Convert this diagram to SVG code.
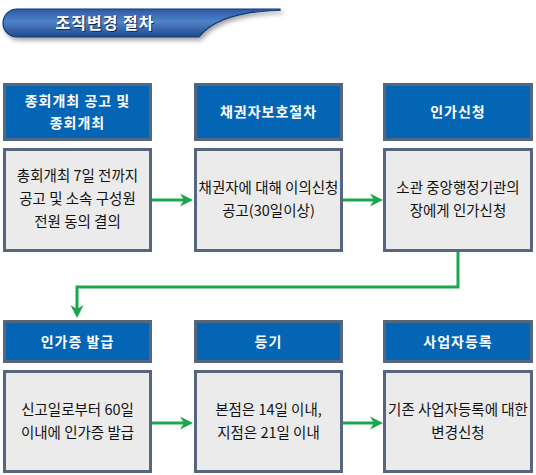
<svg xmlns="http://www.w3.org/2000/svg" width="536" height="475" viewBox="0 0 536 475">
<defs>
<linearGradient id="bannerGrad" x1="0" y1="0" x2="0" y2="1">
<stop offset="0" stop-color="#2a5aa3"/>
<stop offset="0.45" stop-color="#4f82c8"/>
<stop offset="1" stop-color="#1f4a8e"/>
</linearGradient>
<filter id="shadow" x="-10%" y="-30%" width="120%" height="180%">
<feDropShadow dx="2" dy="3" stdDeviation="2" flood-color="#000" flood-opacity="0.35"/>
</filter>
<marker id="arrow" viewBox="0 -7 14 14" markerWidth="14" markerHeight="14" refX="4" refY="0" orient="auto" markerUnits="userSpaceOnUse">
<path d="M0,-6.5 L13,0 L0,6.5 L4,0 Z" fill="#1aa64b"/>
</marker>
<style>
.hdr{fill:#0565b5;stroke:#56677d;stroke-width:3}
.body{fill:#ebebeb;stroke:#56677d;stroke-width:3}
.ht{font-family:"Noto Sans CJK KR","Noto Sans",sans-serif;font-size:14px;font-weight:700;letter-spacing:1px;fill:#fff;text-anchor:middle}
.bt{font-family:"Noto Sans CJK KR","Noto Sans",sans-serif;font-size:14.5px;fill:#111;text-anchor:middle}
.tt{font-family:"Noto Sans CJK KR","Noto Sans",sans-serif;font-size:16px;font-weight:700;letter-spacing:1px;fill:#fff;text-anchor:middle}
.conn{fill:none;stroke:#1aa64b;stroke-width:3}
</style>
</defs>
<rect width="536" height="475" fill="#fff"/>
<g id="title">
<path d="M17,9 L280,9 L280,10.5 C245,11 215,17 199,37 L17,37 A14,14 0 0 1 17,9 Z" fill="url(#bannerGrad)" stroke="#16386e" stroke-width="1.2" filter="url(#shadow)"/>
<text class="tt" x="106" y="30" style="fill:#0d2a55">조직변경 절차</text>
<text class="tt" x="105" y="29">조직변경 절차</text>
</g>
<g id="node1">
<rect class="hdr" x="4.5" y="84.5" width="146" height="55"/>
<text class="ht" x="77.5" y="106">종회개최 공고 및</text>
<text class="ht" x="77.5" y="128">종회개최</text>
<rect class="body" x="4.5" y="149.5" width="146" height="101"/>
<text class="bt" x="77.5" y="181">총회개최 7일 전까지</text>
<text class="bt" x="77.5" y="204">공고 및 소속 구성원</text>
<text class="bt" x="77.5" y="227">전원 동의 결의</text>
</g>
<g id="node2">
<rect class="hdr" x="195.5" y="84.5" width="146" height="55"/>
<text class="ht" x="268.5" y="117">채권자보호절차</text>
<rect class="body" x="195.5" y="149.5" width="146" height="101"/>
<text class="bt" x="268.5" y="193">채권자에 대해 이의신청</text>
<text class="bt" x="268.5" y="216">공고(30일이상)</text>
</g>
<g id="node3">
<rect class="hdr" x="384.5" y="84.5" width="147" height="55"/>
<text class="ht" x="458" y="117">인가신청</text>
<rect class="body" x="384.5" y="149.5" width="147" height="101"/>
<text class="bt" x="458" y="193">소관 중앙행정기관의</text>
<text class="bt" x="458" y="216">장에게 인가신청</text>
</g>
<g id="node4">
<rect class="hdr" x="4.5" y="321.5" width="146" height="40"/>
<text class="ht" x="77.5" y="346.5">인가증 발급</text>
<rect class="body" x="4.5" y="371.5" width="146" height="100"/>
<text class="bt" x="77.5" y="415">신고일로부터 60일</text>
<text class="bt" x="77.5" y="438">이내에 인가증 발급</text>
</g>
<g id="node5">
<rect class="hdr" x="195.5" y="321.5" width="146" height="40"/>
<text class="ht" x="268.5" y="346.5">등기</text>
<rect class="body" x="195.5" y="371.5" width="146" height="100"/>
<text class="bt" x="268.5" y="415">본점은 14일 이내,</text>
<text class="bt" x="268.5" y="438">지점은 21일 이내</text>
</g>
<g id="node6">
<rect class="hdr" x="384.5" y="321.5" width="147" height="40"/>
<text class="ht" x="458" y="346.5">사업자등록</text>
<rect class="body" x="384.5" y="371.5" width="147" height="100"/>
<text class="bt" x="458" y="415">기존 사업자등록에 대한</text>
<text class="bt" x="458" y="438">변경신청</text>
</g>
<g id="connectors">
<line class="conn" x1="152" y1="200" x2="184" y2="200" marker-end="url(#arrow)"/>
<line class="conn" x1="343" y1="200" x2="374" y2="200" marker-end="url(#arrow)"/>
<polyline class="conn" points="458,252 458,287 77,287 77,309" marker-end="url(#arrow)"/>
<line class="conn" x1="152" y1="423" x2="184" y2="423" marker-end="url(#arrow)"/>
<line class="conn" x1="343" y1="423" x2="374" y2="423" marker-end="url(#arrow)"/>
</g>
</svg>
